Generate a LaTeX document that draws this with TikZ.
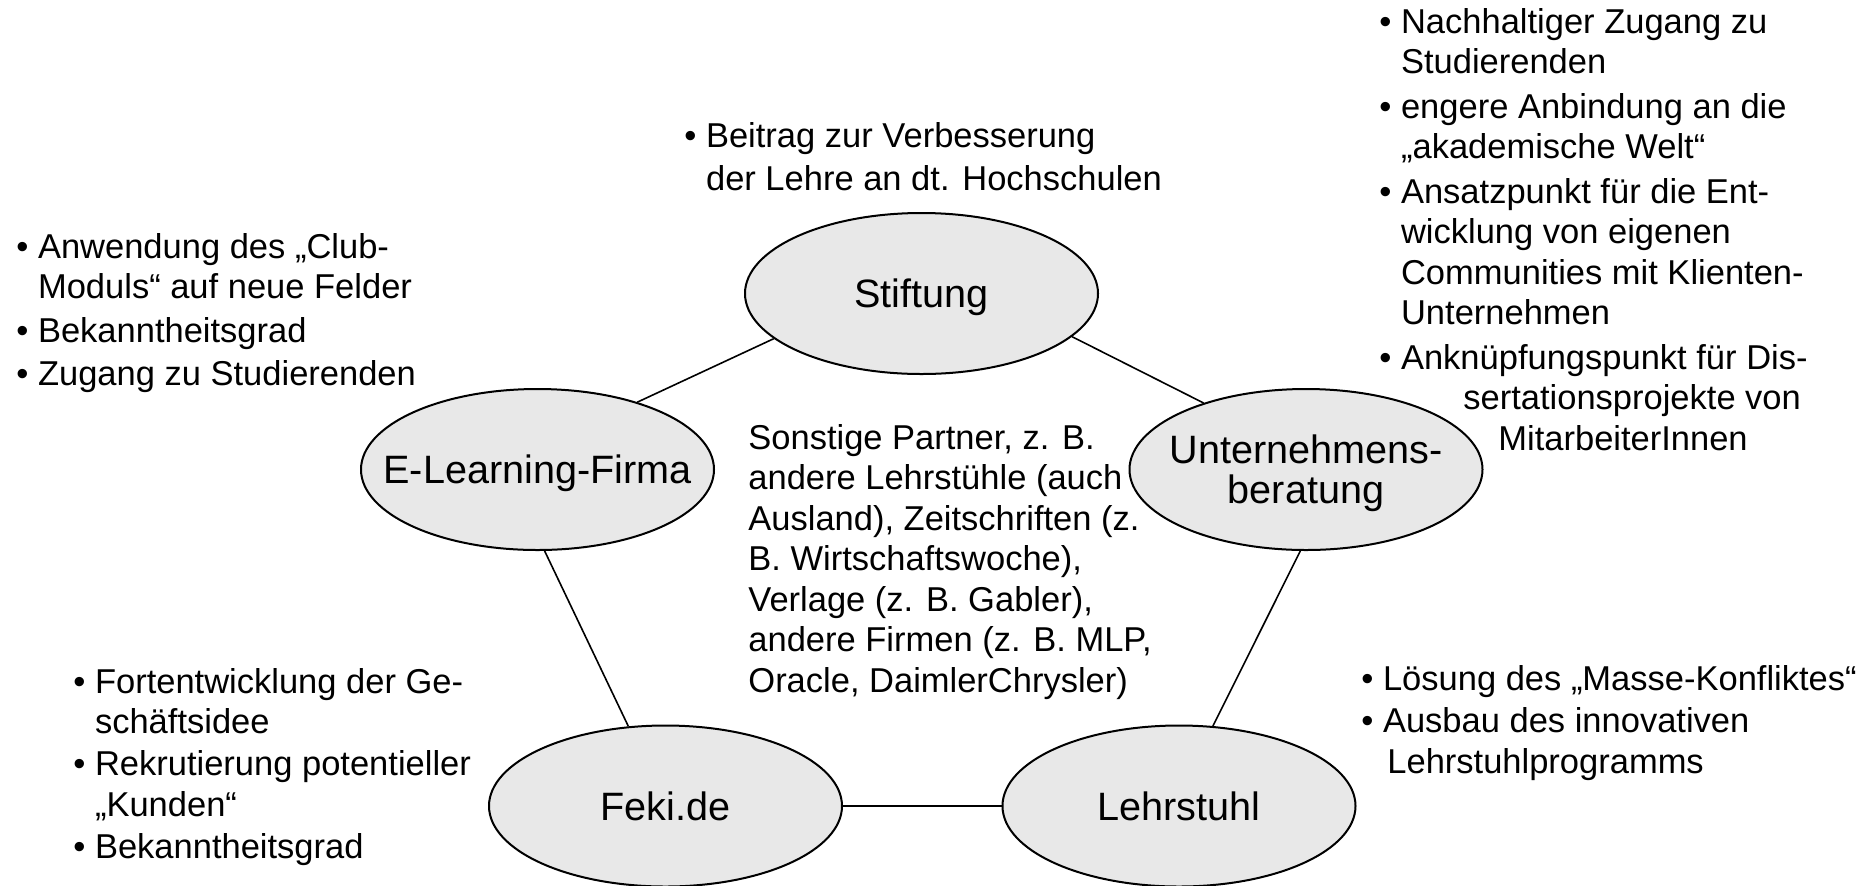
\documentclass[tikz,border=0pt]{standalone}
\usepackage{fontspec}
\setmainfont{Liberation Sans}
\usepackage{xcolor}
\usepackage{tikz}
\usetikzlibrary{shapes.geometric}

\definecolor{partnergray}{HTML}{E8E8E8}

\newcommand{\itm}{\textbullet\ }
\newcommand{\ind}{\phantom{\textbullet\ }}

\begin{document}
\begin{tikzpicture}[x=0.5pt, y=-0.5pt,
    partner/.style={ellipse, draw, line width=1pt, fill=partnergray,
        minimum width=176.5pt, minimum height=80.5pt,
        inner xsep=-20pt, inner ysep=0pt, text depth=0pt,
        align=center, font=\fontsize{19.8}{20}\selectfont},
    link/.style={line width=0.8pt},
    notes/.style={anchor=north west, inner sep=0pt, align=left,
        font=\fontsize{17.25}{20.25}\selectfont}]

\useasboundingbox (0,0) rectangle (1874,885);

% Partners
\node[partner] (stift)  at (921.5,293.5) {Stiftung};
\node[partner] (elearn) at (537.5,469.5) {E-Learning-Firma};
\node[partner] (unter)  at (1306,469.5)  {Unternehmens-\\beratung};
\node[partner] (feki)   at (665.5,806)   {Feki.de};
\node[partner] (lehr)   at (1179,806)    {Lehrstuhl};

% Links
\draw[link] (stift.197) -- (elearn.34);
\draw[link] (stift.344) -- (unter.147);
\draw[link] (elearn.275) -- (feki.115);
\draw[link] (unter.266) -- (lehr.67);
\draw[link] (feki) -- (lehr);

% Benefits
\node[notes] (stiftnote) at (684,122) {\itm Beitrag zur Verbesserung\\[1.25pt]
    \ind der Lehre an dt. Hochschulen};
\node[notes] (elearnnote) at (16,233) {\itm Anwendung des „Club-\\
    \ind Moduls“ auf neue Felder\\[1.5pt]
    \itm Bekanntheitsgrad\\[1.5pt]
    \itm Zugang zu Studierenden};
\node[notes] (unternote) at (1379,8) {\itm Nachhaltiger Zugang zu\\
    \ind Studierenden\\[2pt]
    \itm engere Anbindung an die\\
    \ind „akademische Welt“\\[2pt]
    \itm Ansatzpunkt für die Ent-\\
    \ind wicklung von eigenen\\
    \ind Communities mit Klienten-\\
    \ind Unternehmen\\[2pt]
    \itm Anknüpfungspunkt für Dis-\\
    \hspace*{42pt}sertationsprojekte von\\
    \hspace*{59.5pt}MitarbeiterInnen};
\node[notes] (fekinote) at (73,668) {\itm Fortentwicklung der Ge-\\
    \ind schäftsidee\\[0.75pt]
    \itm Rekrutierung potentieller\\
    \ind „Kunden“\\[0.75pt]
    \itm Bekanntheitsgrad};
\node[notes] (lehrnote) at (1361,665) {\itm Lösung des „Masse-Konfliktes“\\[1pt]
    \itm Ausbau des innovativen\\
    \hspace*{13pt}Lehrstuhlprogramms};

% Other partners
\node[notes] (sonst) at (748,424) {Sonstige Partner, z. B.\\
    andere Lehrstühle (auch\\
    Ausland), Zeitschriften (z.\\
    B. Wirtschaftswoche),\\
    Verlage (z. B. Gabler),\\
    andere Firmen (z. B. MLP,\\
    Oracle, DaimlerChrysler)};

\end{tikzpicture}
\end{document}
